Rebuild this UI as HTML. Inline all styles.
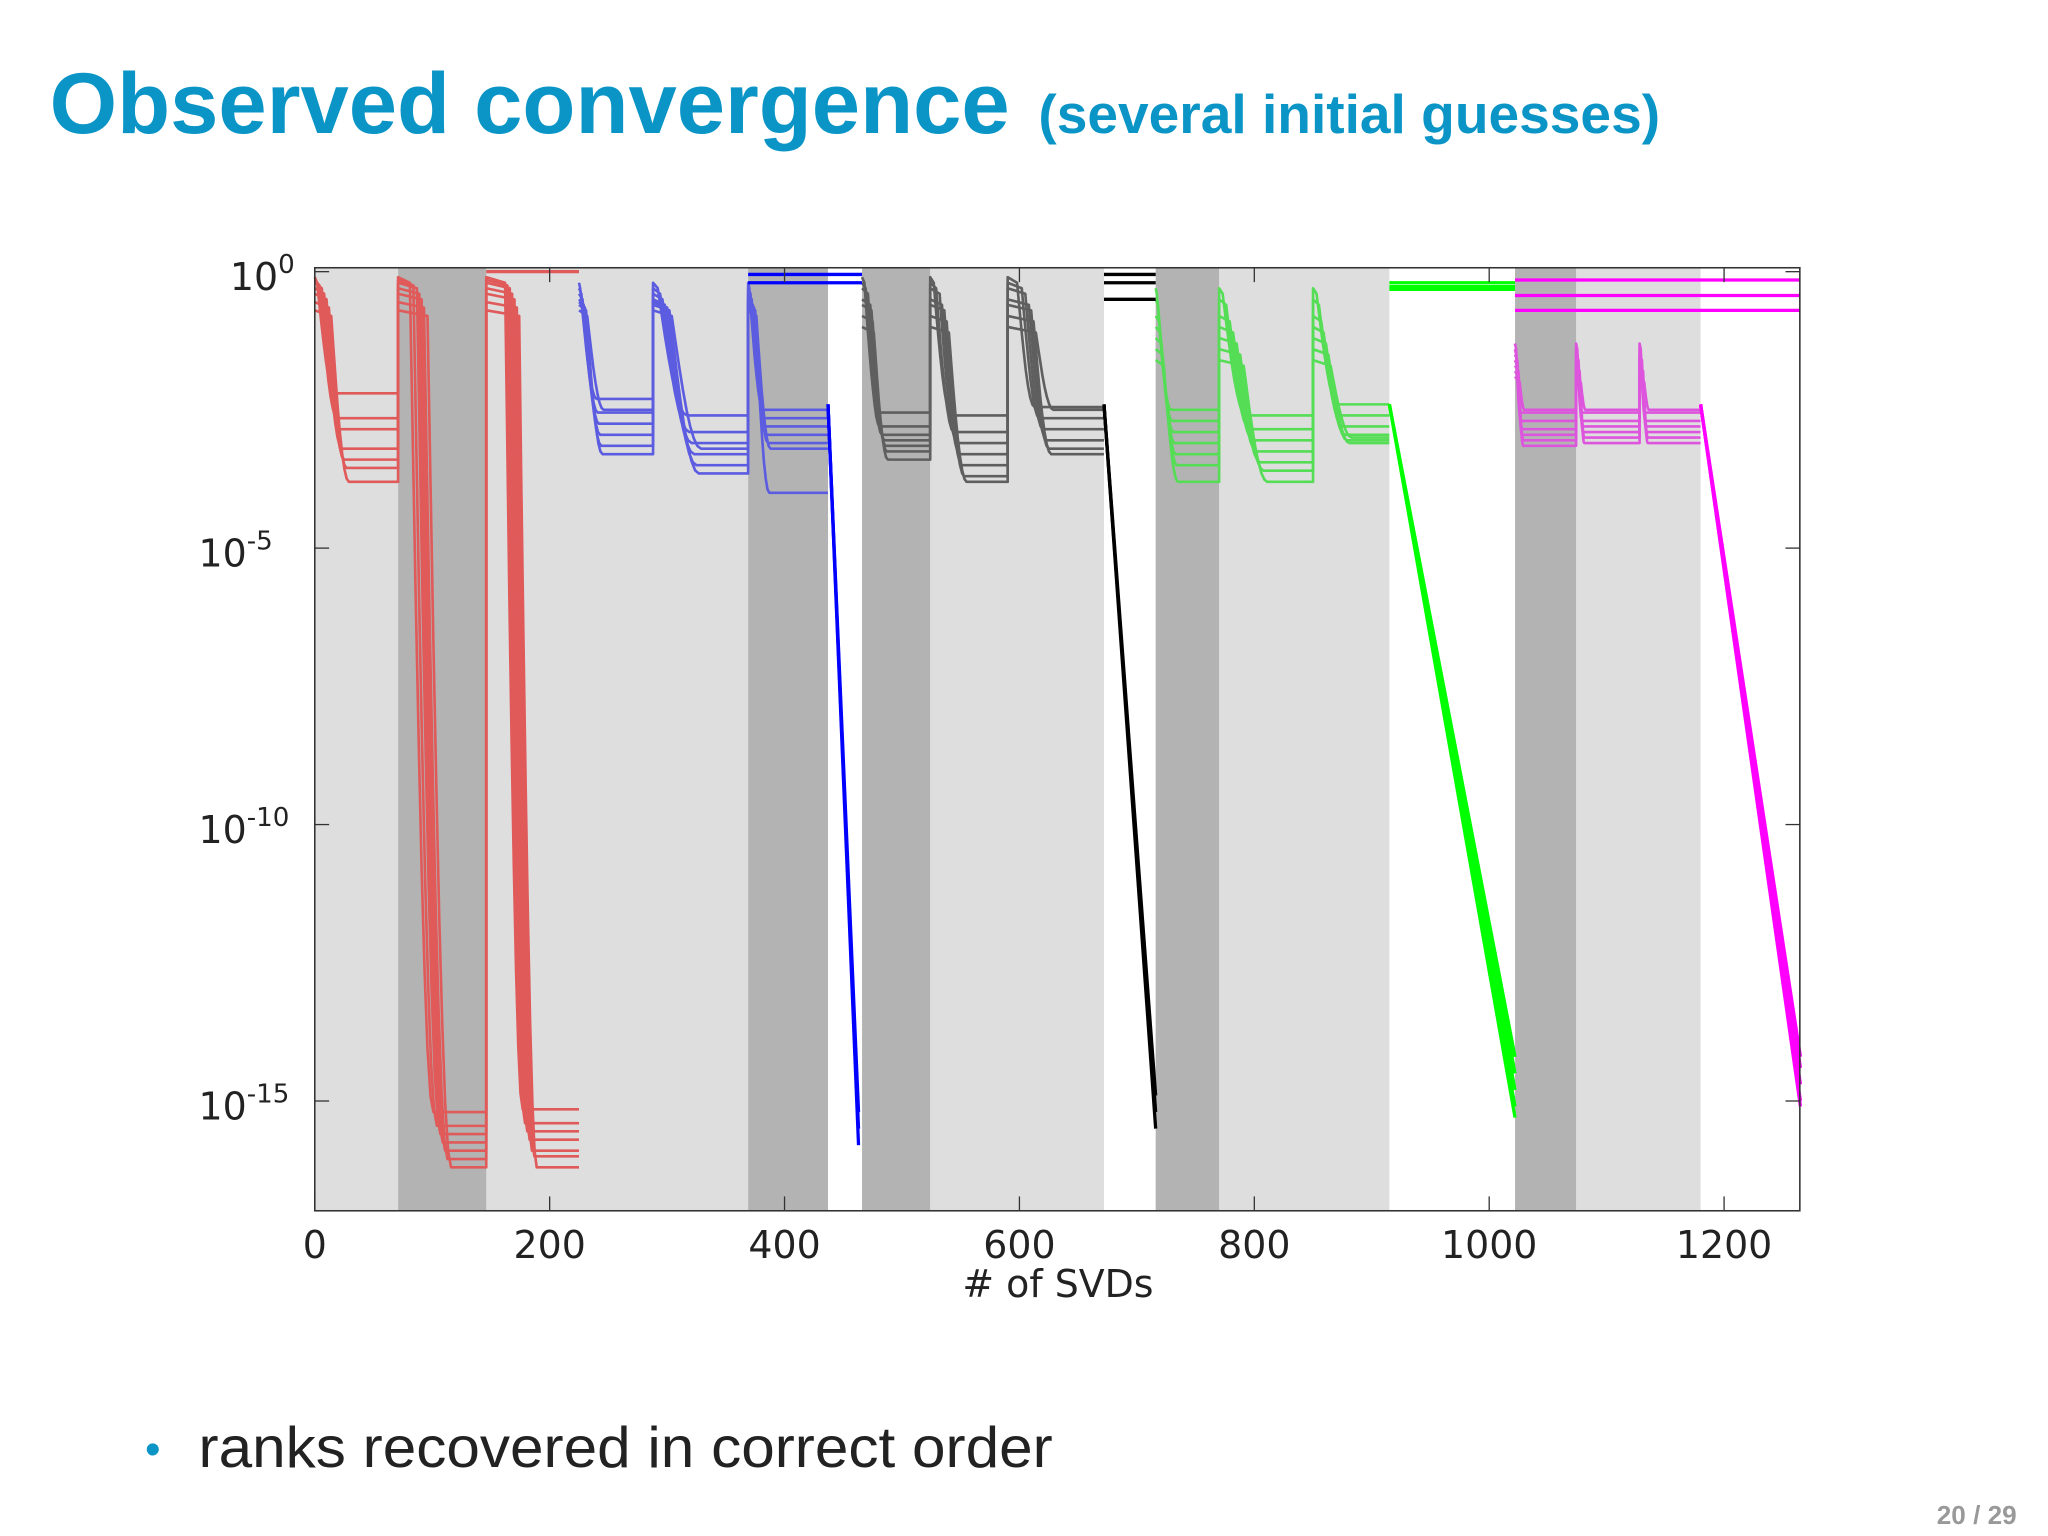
<!DOCTYPE html>
<html><head><meta charset="utf-8"><style>
html,body{margin:0;padding:0;background:#fff;}
svg{display:block;font-family:"Liberation Sans",sans-serif;}
</style></head><body>
<svg id="chart" width="2048" height="1536" viewBox="0 0 1568 1176" xmlns="http://www.w3.org/2000/svg">
<text x="38" y="102" font-size="66" font-weight="bold" fill="#0a95c6" textLength="735" lengthAdjust="spacingAndGlyphs">Observed convergence</text>
<text x="795" y="102" font-size="42" font-weight="bold" fill="#0a95c6" textLength="476" lengthAdjust="spacingAndGlyphs">(several initial guesses)</text>
<g id="plot"></g>
<text x="810" y="993" font-size="29" fill="#222" text-anchor="middle" font-family="DejaVu Sans, sans-serif">#  of SVDs</text>
<text x="111" y="1121" font-size="34" fill="#0a95c6">•</text>
<text x="152" y="1123" font-size="44" fill="#222" textLength="654" lengthAdjust="spacingAndGlyphs">ranks recovered in correct order</text>
<text x="1544" y="1167" font-size="20" font-weight="bold" fill="#999" text-anchor="end">20 / 29</text>
</svg>
<script>
// ---- data ----
const xTicks=[0,200,400,600,800,1000,1200];
const yTicks=[0,-5,-10,-15];
const yTickLabels=["0","-5","-10","-15"];
const lightBands=[[0,225],[225,369],[524,672],[770,915],[1074,1180]];
const darkBands=[[71,146],[369,437],[466,524],[716,770],[1022,1074]];
const redStages=[[0,71,15],[71,146,20],[146,225,15]];
const redTops=[-0.1,-0.15,-0.2,-0.3,-0.4,-0.55,-0.7];
const redLags=[[2,4,6,8,10,12,14],[10,13,16,18,20,22,25],[16,18,20,22,24,26,28]];
const redLevels=[[-2.2,-2.65,-2.85,-3.2,-3.4,-3.55,-3.8],[-15.2,-15.45,-15.6,-15.75,-15.9,-16.05,-16.2],[-15.15,-15.4,-15.55,-15.7,-15.9,-16.0,-16.2]];
const blueStages=[[225,288,14],[288,369,25],[369,437,12]];
const blueTops=[-0.2,-0.3,-0.4,-0.5,-0.55,-0.6,-0.7];
const blueLags=[[1,2,3,4,5,6,7],[4,6,8,10,12,14,16],[1,2,3,4,5,6,7]];
const blueLevels=[[-2.3,-2.55,-2.75,-2.95,-3.15,-3.3,-2.5],[-2.6,-2.9,-3.1,-3.3,-3.5,-3.65,-3.2],[-2.5,-2.65,-2.8,-2.95,-3.1,-4.0,-3.2]];
const grayStages=[[466,524,12],[524,590,15],[590,672,15]];
const grayTops=[-0.1,-0.2,-0.3,-0.5,-0.6,-0.8,-1.0];
const grayLags=[[2,3,5,7,8,9,10],[3,5,8,10,12,14,16],[8,12,15,18,20,22,24]];
const grayLevels=[[-2.55,-2.8,-2.95,-3.05,-3.15,-3.25,-3.4],[-2.6,-2.9,-3.1,-3.3,-3.5,-3.7,-3.8],[-2.45,-2.65,-2.85,-3.05,-3.2,-3.3,-2.5]];
const greenStages=[[716,770,12],[770,850,20],[850,915,18]];
const greenTops=[-0.3,-0.5,-0.8,-1.0,-1.2,-1.4,-1.6];
const greenLags=[[1,2,3,4,5,6,7],[3,6,9,12,15,18,21],[3,5,7,9,11,13,15]];
const greenLevels=[[-2.5,-2.7,-2.9,-3.1,-3.3,-3.5,-3.8],[-2.6,-2.85,-3.05,-3.25,-3.45,-3.6,-3.8],[-2.4,-2.6,-2.8,-2.95,-3.05,-3.1,-3.0]];
const magStages=[[1022,1074,4],[1074,1128,4],[1128,1180,4]];
const magTops=[-1.3,-1.4,-1.5,-1.6,-1.7,-1.8,-1.9];
const magLags=[[1,1,2,2,3,3,4],[1,1,2,2,3,3,4],[1,1,2,2,3,3,4]];
const magLevels=[[-2.55,-2.7,-2.85,-2.95,-3.05,-3.15,-2.5],[-2.55,-2.7,-2.8,-2.9,-3.0,-3.1,-2.5],[-2.55,-2.7,-2.8,-2.9,-3.0,-3.1,-2.5]];
const blueConv=[437,463,-2.4,[-15.2,-15.5,-15.8]];
const blackConv=[672,716,-2.4,[-14.9,-15.2,-15.5]];
const greenConv=[915,1022,-2.4,[-14.2,-14.5,-14.8,-15.1,-15.3]];
const magConv=[1180,1265,-2.4,[-14.2,-14.4,-14.7,-15.0,-15.1]];
const redTopLine=[146,225,[0.0]];
const blueTopLine=[369,466,[-0.05,-0.2]];
const blackTopLine=[672,716,[-0.05,-0.2,-0.5]];
const greenTopLine=[915,1022,[-0.2,-0.27,-0.32]];
const magTopLine=[1022,1265,[-0.15,-0.43,-0.7]];

const L=241,R=1378,T=205,B=927;
const sx=v=>L+v*(1320-L)/1200;
const sy=v=>208-v*42.33;
const NS="http://www.w3.org/2000/svg";
const plot=document.getElementById('plot');
function mk(tag,attrs,parent){const e=document.createElementNS(NS,tag);for(const k in attrs)e.setAttribute(k,attrs[k]);(parent||plot).appendChild(e);return e;}
lightBands.forEach(b=>{const r=mk('rect',{x:sx(b[0]),y:T,width:sx(b[1])-sx(b[0]),height:B-T,fill:'#dededf'});

});
darkBands.forEach(b=>{const r=mk('rect',{x:sx(b[0]),y:T,width:sx(b[1])-sx(b[0]),height:B-T,fill:'#b3b3b4'});

});
function group(stages,tops,lags,levels,color,name){
  for(let i=0;i<tops.length;i++){
    let d='';
    stages.forEach((s,k)=>{
      const [x0,x1,dur]=s;const lag=lags[k][i];const lv=levels[k][i];
      const pts=[[x0,tops[i]],[x0+lag,tops[i]-0.1]];
      for(let j=1;j<=8;j++){const t=j/8;const e=Math.sin(t*Math.PI/2);pts.push([x0+lag+dur*t,tops[i]-0.1+(lv-tops[i]+0.1)*e]);}
      pts.push([x1,lv]);
      pts.forEach(p=>{d+=(d===''?'M':'L')+sx(p[0]).toFixed(1)+','+sy(p[1]).toFixed(1)+' ';});
    });
    const p=mk('path',{d:d,fill:'none',stroke:color,'stroke-width':2,'stroke-linejoin':'round'});
    
    
  }
}
function conv(c,color,name){
  c[3].forEach(e=>{const p=mk('path',{d:'M'+sx(c[0])+','+sy(c[2])+' L'+sx(c[1])+','+sy(e),fill:'none',stroke:color,'stroke-width':2.5});
  
  });
}
function flat(c,color,name){
  c[2].forEach(v=>{const p=mk('line',{x1:sx(c[0]),x2:sx(c[1]),y1:sy(v),y2:sy(v),stroke:color,'stroke-width':2.5});
  
  });
}
group(redStages,redTops,redLags,redLevels,'#e05a5a','red');
group(blueStages,blueTops,blueLags,blueLevels,'#5c5ce0','blue');
group(grayStages,grayTops,grayLags,grayLevels,'#5f5f5f','gray');
group(greenStages,greenTops,greenLags,greenLevels,'#55dd55','green');
group(magStages,magTops,magLags,magLevels,'#dd55dd','magenta');
flat(redTopLine,'#e05a5a','red');flat(blueTopLine,'#0000ff','blue');flat(blackTopLine,'#000','black');
flat(greenTopLine,'#00ff00','green');flat(magTopLine,'#ff00ff','magenta');
conv(blueConv,'#0000ff','blue');conv(blackConv,'#000','black');conv(greenConv,'#00ff00','green');conv(magConv,'#ff00ff','magenta');
const frame=mk('rect',{x:L,y:T,width:R-L,height:B-T,fill:'none',stroke:'#333','stroke-width':1.2});


xTicks.forEach(v=>{
  mk('line',{x1:sx(v),x2:sx(v),y1:B,y2:B-11,stroke:'#333'});
  mk('line',{x1:sx(v),x2:sx(v),y1:T,y2:T+11,stroke:'#333'});
  const t=mk('text',{x:sx(v),y:963,'font-size':29,fill:'#222','text-anchor':'middle','font-family':'DejaVu Sans, sans-serif'});t.textContent=v;
  
  
});
yTicks.forEach((v,i)=>{
  mk('line',{x1:L,x2:L+11,y1:sy(v),y2:sy(v),stroke:'#333'});
  mk('line',{x1:R,x2:R-11,y1:sy(v),y2:sy(v),stroke:'#333'});
  const t=mk('text',{x:i==0?176:152,y:sy(v)+14,'font-size':29,fill:'#222','font-family':'DejaVu Sans, sans-serif'});
  
  
  t.appendChild(document.createTextNode('10'));
  const s=mk('tspan',{dy:-13,'font-size':20},t);s.textContent=yTickLabels[i];
});
</script>
</body></html>
